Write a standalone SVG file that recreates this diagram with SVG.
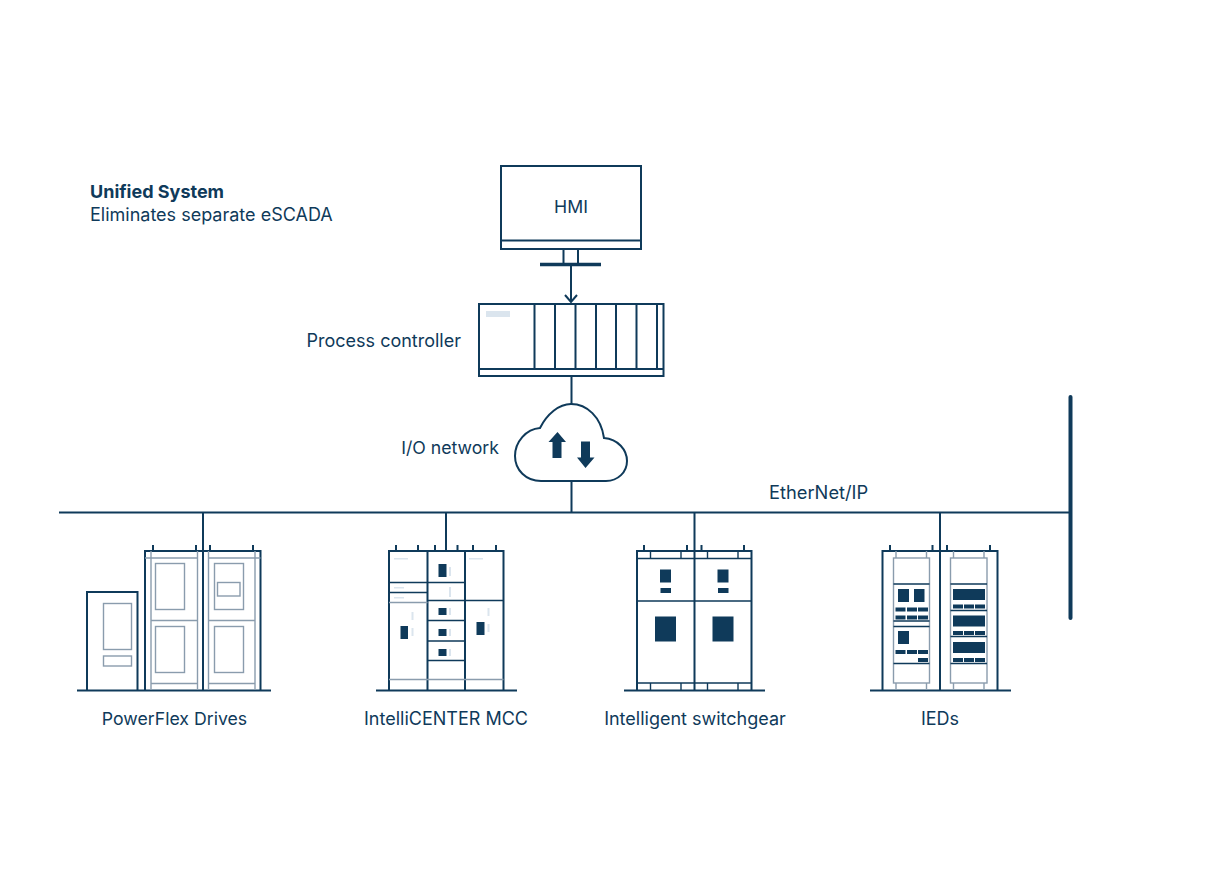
<svg xmlns="http://www.w3.org/2000/svg" width="1232" height="880" viewBox="0 0 1232 880">
<defs><style>
text{font-family:"Inter","Liberation Sans",sans-serif;font-size:18px;fill:#0f3a5a}
.c{text-anchor:middle}
.b{font-weight:700}
.n{font-size:17.700px}
.s{fill:none;stroke:#0f3a5a;stroke-width:2}
.t{fill:none;stroke:#0f3a5a;stroke-width:1.4}
.g{fill:none;stroke:#8a9cad;stroke-width:1.4}
.f{fill:#0f3a5a;stroke:none}
.l{fill:#dbe5ee;stroke:none}
</style></defs>
<rect width="1232" height="880" fill="#fff"/>
<g id="connectors">
<path class="s" d="M59 512.500H1070M203 512.500V550M446 512.500V550M694.500 512.500V550M940 512.500V550M571.500 376V404M571.500 482V512.500"/>
<path class="s" d="M571 265V302M565 295L571 302L577 295"/>
<path d="M1070.500 397V618" fill="none" stroke="#0f3a5a" stroke-width="4" stroke-linecap="round"/>
</g>
<g id="title"><text x="90" y="198" class="b">Unified System</text><text x="90" y="220.500">Eliminates separate eSCADA</text></g>
<g id="hmi">
<rect class="s" x="501" y="166" width="140" height="83"/><path class="s" d="M501 240.500H641"/>
<path class="s" d="M563.500 249V264H578V249"/><path d="M540 264.500H601" fill="none" stroke="#0f3a5a" stroke-width="3.500"/>
<text x="571" y="213" class="c n">HMI</text>
</g>
<g id="process-controller">
<rect class="s" x="479" y="304" width="184.500" height="72"/><path class="s" d="M479 369H663.500M534.500 304V369M555 304V369M575.500 304V369M596 304V369M616 304V369M636.500 304V369M657 304V369"/>
<rect class="l" x="486" y="311" width="24" height="6"/>
<text x="461" y="346.500" text-anchor="end">Process controller</text>
</g>
<g id="io-network">
<path class="s" d="M541 481C526 481 515 470 515 456C515 442 526 429 540 428C547 414 559 404 571 404C587 404 601 417 604 438C618 439 627 450 627 461C627 472 618 481 606 481Z"/>
<path class="f" d="M557.500 432L566 442H561.500V458H552.500V442H548.500ZM581 441.500H590V457.500H594.500L585.500 468L577 457.500H581Z"/>
<text x="499" y="453.500" text-anchor="end" class="n">I/O network</text>
</g>
<g id="ethernet-label"><text x="769" y="498.500" style="font-size:18.300px">EtherNet/IP</text></g>
<g id="powerflex">
<path class="s" d="M77 690.500H271M87 690V592H137.500V690M145 690V551H260.500V690M203 550V690M153 545V551M196 545V551M210 545V551M253 545V551"/>
<path class="g" d="M151 551V690M197.500 551V690M208.500 551V690M255 551V690M145 558H197.500M208.500 558H260.500M151 620.500H197.500M208.500 620.500H255M151 683.500H197.500M208.500 683.500H255"/>
<g class="g"><rect x="103.500" y="603.500" width="28" height="46"/><rect x="103.500" y="656" width="28" height="10"/><rect x="155.500" y="563.500" width="29" height="46"/><rect x="155.500" y="626.500" width="29" height="46"/><rect x="214.500" y="563.500" width="29" height="46"/><rect x="214.500" y="626.500" width="29" height="46"/><rect x="217.500" y="582.500" width="22.500" height="13.500"/></g>
<text x="174.500" y="724.500" class="c n">PowerFlex Drives</text>
</g>
<g id="intellicenter">
<path class="s" d="M376 690.500H517M389 690V551H503.500V690M427.500 551V690M465 551V690M396 545V551M418 545V551M435 545V551M457.500 545V551M473 545V551M496 545V551"/>
<path class="t" d="M389 582.500H465M389 592.500H427.500M427.500 600.500H503.500M427.500 620.500H465M427.500 641H465M427.500 660.500H465"/>
<path class="g" d="M389 602.500H427.500M389 679.500H503.500"/>
<g class="f"><rect x="438.500" y="564" width="8" height="13"/><rect x="438.500" y="608" width="8" height="7"/><rect x="438.500" y="629" width="8" height="7"/><rect x="438.500" y="649" width="8" height="7"/><rect x="400.500" y="626" width="7.500" height="13"/><rect x="476.500" y="622" width="8" height="13"/></g>
<g class="l"><rect x="394" y="558" width="14" height="1.500"/><rect x="394" y="587" width="10" height="1.500"/><rect x="394" y="597" width="10" height="1.500"/><rect x="469" y="558" width="14" height="1.500"/><rect x="449" y="567" width="2" height="9"/><rect x="449" y="587" width="2" height="10"/><rect x="449" y="608" width="2" height="7"/><rect x="449" y="629" width="2" height="7"/><rect x="449" y="649" width="2" height="7"/><rect x="411.500" y="612" width="2" height="8"/><rect x="411.500" y="628" width="2" height="8"/><rect x="487.500" y="608" width="2" height="8"/><rect x="487.500" y="624" width="2" height="8"/></g>
<text x="446" y="724.500" class="c">IntelliCENTER MCC</text>
</g>
<g id="switchgear">
<path class="s" d="M624 690.500H765M637 690V551H751.500V690M694.500 550V690M644 545V551M687 545V551M701.500 545V551M744 545V551"/>
<path class="t" d="M637 558.500H751.500M637 601H751.500M637 683H751.500M650.500 551V558.500M681 551V558.500M707.500 551V558.500M738 551V558.500M650.500 683V690M681 683V690M707.500 683V690M738 683V690"/>
<g class="f"><rect x="660" y="569.500" width="11" height="13"/><rect x="660.500" y="588" width="10.500" height="5"/><rect x="717.500" y="569.500" width="11" height="13"/><rect x="718" y="588" width="10.500" height="5"/><rect x="655" y="616.500" width="21" height="25"/><rect x="712.500" y="616.500" width="21" height="25"/></g>
<text x="695" y="724.500" class="c">Intelligent switchgear</text>
</g>
<g id="ieds">
<path class="s" d="M870 690.500H1011M882.500 690V551H997.500V690M940 550V690M890 545V551M932.500 545V551M947 545V551M990 545V551"/>
<g class="g"><rect x="893.500" y="558" width="36" height="125"/><rect x="950.500" y="558" width="36.500" height="125"/></g>
<path class="g" d="M896 551V558M926.500 551V558M953.500 551V558M984 551V558M896 683V690M926.500 683V690M953.500 683V690M984 683V690"/>
<path class="t" d="M893.500 584H929.500M893.500 621H929.500M893.500 626.500H929.500M893.500 663.500H929.500M950.500 584H987M950.500 610.500H987M950.500 636.500H987M950.500 663.500H987"/>
<g class="f"><rect x="898" y="589" width="11" height="13"/><rect x="914" y="589" width="10.500" height="13"/><rect x="895.500" y="607.500" width="10" height="4"/><rect x="907" y="607.500" width="10" height="4"/><rect x="918" y="607.500" width="10" height="4"/><rect x="895.500" y="615.500" width="10" height="4"/><rect x="907" y="615.500" width="10" height="4"/><rect x="918" y="615.500" width="10" height="4"/><rect x="898" y="631" width="11" height="13"/><rect x="895.500" y="650" width="10" height="4"/><rect x="907" y="650" width="10" height="4"/><rect x="918" y="650" width="10" height="4"/><rect x="918" y="658" width="10" height="4"/><rect x="953" y="589" width="32" height="11"/><rect x="953" y="604.500" width="10" height="4"/><rect x="964" y="604.500" width="10" height="4"/><rect x="975" y="604.500" width="10" height="4"/><rect x="953" y="615.500" width="32" height="11"/><rect x="953" y="631" width="10" height="4"/><rect x="964" y="631" width="10" height="4"/><rect x="975" y="631" width="10" height="4"/><rect x="953" y="642" width="32" height="11"/><rect x="953" y="658" width="10" height="4"/><rect x="964" y="658" width="10" height="4"/><rect x="975" y="658" width="10" height="4"/></g>
<text x="940" y="724.500" class="c">IEDs</text>
</g>
</svg>
